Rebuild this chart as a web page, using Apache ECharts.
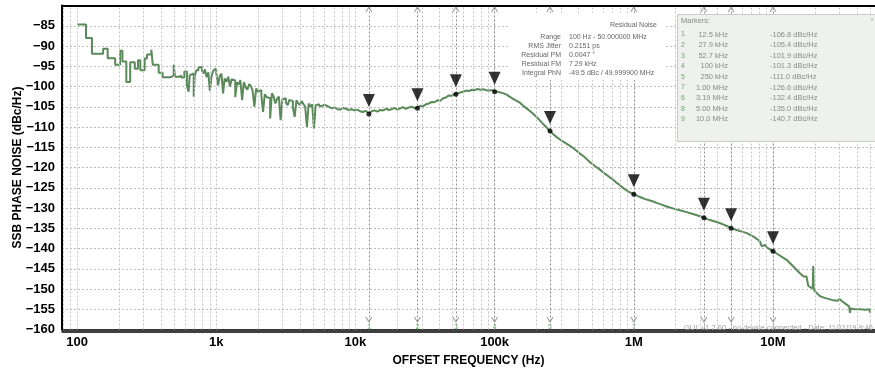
<!DOCTYPE html>
<html><head><meta charset="utf-8">
<script src="https://cdn.jsdelivr.net/npm/echarts@6/dist/echarts.min.js"></script>
<style>html,body{margin:0;padding:0;background:#fff}#c{width:875px;height:372px}</style>
</head><body><div id="c"></div>
<script>
// ---------- DATA ----------
// Low-offset part of the trace (FFT-bin steps), Hz / dBc/Hz
const lowFreq = [100,116,128,154,166,188,204,212,226,241,260,274,285,306,318,342,350,386,412,470,495,506,540,560,590,616,634,645,665,689,700,720,745,765,790,808,830,854,878,900,925,955,981,
  1000,1030,1060,1090,1120,1150,1185,1220,1255,1290,1330,1370,1410,1450,1490,1535,1580,1625,1675,1725,1775,1825,1880,1935,1990,2050,2110,2170,2235,2300,2370,2440,2510,2585,2660,2740,2820,2900,2985,3075,3165,3260,3355,3455,3555,3660,3770,3880,3995,4110,4230,4355,4485,4615,4750,4890,5035,5180,5330,5490];
const lowDb = [-84.7,-88.0,-91.9,-90.7,-93.0,-94.6,-91.2,-93.8,-98.9,-94.0,-95.6,-93.5,-96.0,-93.1,-92.1,-90.9,-94.6,-96.6,-97.7,-97.3,-94.6,-97.6,-97.3,-97.8,-96.3,-99.8,-101.3,-97.2,-96.8,-102.5,-97.5,-96.0,-95.3,-95.2,-96.0,-96.8,-95.8,-97.7,-96.5,-101.0,-97.5,-96.0,-95.6,
  -96.5,-99.7,-97.5,-96.8,-101.7,-98.0,-98.8,-97.6,-100.0,-98.2,-98.5,-102.6,-99.0,-99.5,-98.4,-103.4,-98.9,-100.2,-100.8,-99.4,-99.9,-101.0,-105.0,-100.5,-101.3,-100.9,-102.2,-106.3,-101.9,-102.6,-102.9,-107.9,-101.7,-102.4,-104.2,-103.0,-102.5,-108.3,-103.2,-102.9,-104.0,-104.6,-103.3,-103.6,-105.2,-107.5,-103.4,-104.1,-104.6,-103.6,-104.3,-105.0,-110.0,-104.2,-105.0,-104.4,-110.4,-104.6,-104.4,-104.8];
// Upper-offset part of the trace
const highFreq = [5490,5700,5950,6200,6500,6800,7100,7450,7800,8150,8550,8950,9400,9850,10300,10800,11300,11800,12500,13100,13700,14400,15100,15800,16600,17400,18200,19100,20000,21000,22000,23000,24200,25400,26600,27900,29200,30600,32100,33700,35300,37000,38800,40700,42700,44700,46900,49200,51600,54100,56700,59500,62400,65400,68600,71900,75400,79100,82900,86900,91100,95500,
  100000,105000,110000,116000,122000,128000,135000,143000,152000,161000,170000,180000,190000,201000,213000,225000,237000,250000,264000,279000,295000,311000,328000,346000,366000,386000,408000,431000,455000,480000,507000,535000,565000,597000,630000,665000,703000,742000,783000,827000,873000,922000,973000,
  1000000,1060000,1130000,1210000,1290000,1380000,1470000,1570000,1680000,1790000,1910000,2040000,2180000,2330000,2490000,2660000,2840000,3030000,3190000,3400000,3630000,3880000,4140000,4420000,4720000,5000000,5340000,5700000,6080000,6480000,6900000,7350000,7840000,8100000,8300000,8550000,8760000,9000000,9500000,
  10000000,10700000,11500000,12500000,13500000,14500000,15600000,16600000,17000000,17400000,17900000,18600000,19300000,19450000,19600000,20000000,20900000,21800000,23500000,25300000,27100000,29000000,30200000,31500000,33000000,33800000,35200000,35700000,36200000,38500000,42200000,46000000,49000000,50000000];
const highDb = [-104.8,-104.9,-104.5,-104.7,-105.1,-105.4,-105.2,-105.6,-105.7,-105.3,-105.5,-105.8,-105.6,-105.9,-105.7,-106.1,-106.3,-106.0,-106.6,-106.1,-105.9,-106.2,-105.8,-105.9,-105.5,-105.8,-105.6,-105.3,-105.7,-105.4,-105.1,-105.5,-105.2,-105.0,-105.3,-105.2,-104.8,-104.9,-104.4,-104.2,-103.8,-103.9,-103.4,-103.5,-102.9,-102.7,-102.2,-102.3,-101.9,-101.7,-101.5,-101.3,-101.0,-101.1,-100.8,-100.9,-100.6,-100.8,-100.7,-100.9,-101.0,-100.9,
  -101.2,-101.3,-101.5,-101.7,-102.0,-102.5,-103.0,-103.5,-104.0,-104.8,-105.4,-106.1,-106.8,-107.6,-108.5,-109.4,-110.2,-111.0,-111.8,-112.5,-113.1,-113.6,-114.1,-114.6,-115.2,-115.8,-116.5,-117.1,-117.8,-118.6,-119.2,-119.8,-120.4,-121.1,-121.7,-122.3,-122.9,-123.6,-124.2,-124.9,-125.5,-126.0,-126.4,
  -126.6,-127.0,-127.4,-127.8,-128.1,-128.4,-128.8,-129.1,-129.5,-129.8,-130.1,-130.4,-130.6,-130.9,-131.2,-131.5,-131.8,-132.1,-132.4,-132.8,-133.1,-133.4,-133.7,-134.1,-134.5,-135.0,-135.3,-135.6,-135.9,-136.2,-136.7,-137.2,-137.9,-138.4,-139.5,-139.2,-139.1,-139.7,-140.2,
  -140.7,-141.3,-142.0,-142.8,-143.9,-145.0,-146.1,-146.9,-146.6,-146.9,-149.2,-149.6,-149.8,-144.3,-149.9,-150.6,-151.2,-151.8,-152.2,-152.5,-152.8,-152.9,-152.5,-153.1,-153.6,-153.9,-154.3,-155.9,-154.8,-155.0,-155.0,-155.1,-155.0,-155.9];
// Markers
const markerId = ['1','2','3','4','5','7','6','8','9'];
const markerFreq = [12500,27900,52700,100000,250000,1000000,3190000,5000000,10000000];
const markerDb = [-106.8,-105.4,-101.9,-101.3,-111.0,-126.6,-132.4,-135.0,-140.7];
const markerFreqText = ['12.5 kHz','27.9 kHz','52.7 kHz','100 kHz','250 kHz','1.00 MHz','3.19 MHz','5.00 MHz','10.0 MHz'];
const markerFootShown = [true,true,true,true,true,true,false,false,false];
// Residual noise summary
const infoLabels = ['Range','RMS Jitter','Residual PM','Residual FM','Integral PhN'];
const infoValues = ['100 Hz - 50.000000 MHz','0.2151 ps','0.0047 \u00b0','7.29 kHz','-49.5 dBc / 49.999900 MHz'];
// Axis tick labels
const xTickLabels = {2:'100',3:'1k',4:'10k',5:'100k',6:'1M',7:'10M'};
const yMin = -160, yMax = -80, yStep = 5;

// ---------- CHART ----------
const FONT = '"Liberation Sans", Arial, Helvetica, sans-serif';
const X_MIN = 78, X_MAX = 5.404e7;
const zip = (a, b) => a.map((v, i) => [v, b[i]]);
const gridFreqs = [];
for (let d = 10; d <= 1e7; d *= 10) for (let k = 1; k <= 9; k++) { const f = k * d; if (f > X_MIN && f < X_MAX) gridFreqs.push(f); }
const gridLines = gridFreqs.map(f => ({xAxis: f}))
  .concat(markerFreq.map(f => ({xAxis: f, lineStyle: {color: '#8f8f8f', type: [2, 2], width: 1}})));
const traceColor = '#5a895a';

const graphics = [];
// Residual noise box
graphics.push({type: 'rect', z: 100, shape: {x: 510, y: 13, width: 155, height: 67}, style: {fill: '#ffffff'}});
graphics.push({type: 'text', z: 101, x: 657, y: 25, style: {text: 'Residual Noise', fill: '#666', font: '7px ' + FONT, align: 'right', verticalAlign: 'middle'}});
infoLabels.forEach((t, i) => {
  const y = 37 + i * 9;
  graphics.push({type: 'text', z: 101, x: 561, y: y, style: {text: t, fill: '#666', font: '7px ' + FONT, align: 'right', verticalAlign: 'middle'}});
  graphics.push({type: 'text', z: 101, x: 569, y: y, style: {text: infoValues[i], fill: '#666', font: '7px ' + FONT, align: 'left', verticalAlign: 'middle'}});
});
// Markers box
graphics.push({type: 'rect', z: 100, shape: {x: 677.5, y: 14.5, width: 210, height: 127}, style: {fill: '#eff1ee', stroke: '#c9cbc8', lineWidth: 1}});
graphics.push({type: 'text', z: 101, x: 681, y: 21, style: {text: 'Markers:', fill: '#8a8a8a', font: '7.5px ' + FONT, align: 'left', verticalAlign: 'middle'}});
graphics.push({type: 'text', z: 101, x: 872, y: 19, style: {text: 'x', fill: '#aaa', font: '6px ' + FONT, align: 'center', verticalAlign: 'middle'}});
markerId.forEach((id, i) => {
  const y = 34.5 + i * 10.6;
  graphics.push({type: 'text', z: 101, x: 683, y: y, style: {text: id, fill: '#5fae5f', font: '7px ' + FONT, align: 'center', verticalAlign: 'middle'}});
  graphics.push({type: 'text', z: 101, x: 728, y: y, style: {text: markerFreqText[i], fill: '#8a8a8a', font: '7.5px ' + FONT, align: 'right', verticalAlign: 'middle'}});
  graphics.push({type: 'text', z: 101, x: 770, y: y, style: {text: markerDb[i].toFixed(1) + ' dBc/Hz', fill: '#8a8a8a', font: '7.5px ' + FONT, align: 'left', verticalAlign: 'middle'}});
});
// footer
graphics.push({type: 'text', z: 101, x: 873, y: 327.5, style: {text: 'GUI: v1.2.60 - no device connected - Date: 11/11/19 9:46', fill: '#a0a0a0', font: '7.5px ' + FONT, align: 'right', verticalAlign: 'middle'}});

const chart = echarts.init(document.getElementById('c'));
chart.setOption({
  animation: false,
  backgroundColor: '#fff',
  grid: {left: 62, right: 0, top: 5.5, bottom: 42.5, containLabel: false, outerBoundsMode: 'none'},
  xAxis: [
    {type: 'log', logBase: 10, min: X_MIN, max: X_MAX,
      axisLine: {show: true, onZero: false, lineStyle: {color: '#000', width: 1.5}},
      axisTick: {show: false}, splitLine: {show: false}, minorTick: {show: false}, minorSplitLine: {show: false},
      axisLabel: {color: '#000', fontWeight: 'bold', fontSize: 13, fontFamily: FONT, margin: 6,
        formatter: v => { const l = Math.log10(v); const r = Math.round(l); return Math.abs(l - r) < 1e-6 && xTickLabels[r] ? xTickLabels[r] : ''; }},
      name: 'OFFSET FREQUENCY (Hz)', nameLocation: 'middle', nameGap: 25,
      nameTextStyle: {color: '#000', fontWeight: 'bold', fontSize: 12, fontFamily: FONT}},
    {type: 'value', position: 'top', min: 0, max: 1, axisLine: {show: true, lineStyle: {color: '#000', width: 2}},
      axisLabel: {show: false}, axisTick: {show: false}, splitLine: {show: false}},
    {type: 'value', position: 'bottom', offset: 2, min: 0, max: 1, axisLine: {show: true, onZero: false, lineStyle: {color: '#000', width: 1.5}},
      axisLabel: {show: false}, axisTick: {show: false}, splitLine: {show: false}}
  ],
  yAxis: {type: 'value', min: yMin, max: yMax, interval: yStep,
    axisLine: {show: true, lineStyle: {color: '#000', width: 2}},
    axisTick: {show: false},
    splitLine: {show: true, lineStyle: {color: '#bdbdbd', type: [2, 2], width: 1}},
    axisLabel: {color: '#000', fontWeight: 'bold', fontSize: 13, fontFamily: FONT, margin: 7,
      formatter: v => v === yMax ? '' : String(v).replace('-', '\u2212')},
    name: 'SSB PHASE NOISE (dBc/Hz)', nameLocation: 'middle', nameGap: 38, nameRotate: 90, nameMoveOverlap: false,
    nameTextStyle: {color: '#000', fontWeight: 'bold', fontSize: 12, fontFamily: FONT}},
  graphic: graphics,
  series: [
    {type: 'line', name: 'grid', data: [], z: 1, silent: true,
      markLine: {silent: true, symbol: ['none', 'none'], label: {show: false}, emphasis: {disabled: true},
        lineStyle: {color: '#c4c4c4', type: [2, 2], width: 1}, data: gridLines}},
    {type: 'line', name: 'low', step: 'end', data: zip(lowFreq, lowDb), showSymbol: false, z: 3,
      lineStyle: {color: traceColor, width: 2}},
    {type: 'line', name: 'high', data: zip(highFreq, highDb), showSymbol: false, z: 3,
      lineStyle: {color: traceColor, width: 2}},
    {type: 'scatter', name: 'dots', data: zip(markerFreq, markerDb), symbol: 'circle', symbolSize: 5, z: 5,
      itemStyle: {color: '#000'}},
    {type: 'scatter', name: 'tri', data: zip(markerFreq, markerDb), symbol: 'path://M0,0 L10,0 L5,12 Z',
      symbolSize: [12, 13], symbolOffset: [0, -13.5], z: 5, itemStyle: {color: '#000'}},
    {type: 'scatter', name: 'topCaret', data: markerFreq.map(f => [f, yMax]), symbol: 'path://M0,10 L5,0 L10,10',
      symbolSize: [6, 5], symbolOffset: [0, 4], z: 6, itemStyle: {color: 'rgba(0,0,0,0)', borderColor: '#888', borderWidth: 1}},
    {type: 'scatter', name: 'foot', data: markerFreq.map(f => [f, yMin]), symbol: 'path://M0,0 L5,10 L10,0',
      symbolSize: [6, 5], symbolOffset: [0, -10], z: 6, itemStyle: {color: 'rgba(0,0,0,0)', borderColor: '#888', borderWidth: 1},
      label: {show: true, position: 'bottom', distance: 1, color: '#5fae5f', fontSize: 7, fontFamily: FONT,
        formatter: p => markerFootShown[p.dataIndex] ? markerId[p.dataIndex] : ''}}
  ]
});
</script></body></html>
